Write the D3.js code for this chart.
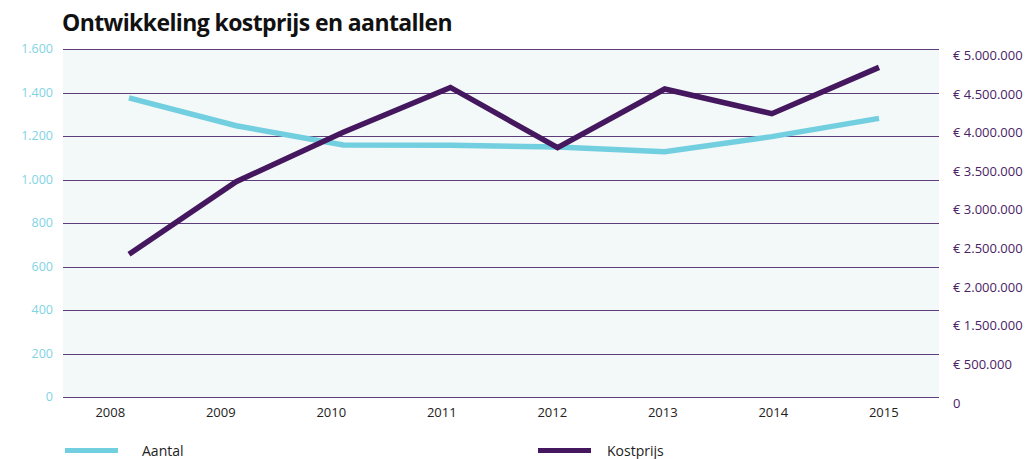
<!DOCTYPE html>
<html>
<head>
<meta charset="utf-8">
<script src="https://cdn.jsdelivr.net/npm/d3@7"></script>
<style>
  body { margin: 0; background: #fff; }
  text { font-family: "Open Sans", "DejaVu Sans", sans-serif; }
</style>
</head>
<body>
<svg id="chart" width="1033" height="459"></svg>
<script>
// data
const years = ['2008', '2009', '2010', '2011', '2012', '2013', '2014', '2015'];
const aantal = [1375, 1247, 1159, 1158, 1149, 1128, 1197, 1281];
const kostprijs = [2420000, 3360000, 4000000, 4580000, 3800000, 4560000, 4240000, 4840000];

const leftTicks = [0, 200, 400, 600, 800, 1000, 1200, 1400, 1600];
// right axis labels as printed (1.000.000 is missing in the original)
const rightTicks = [0, 500000, 1500000, 2000000, 2500000, 3000000, 3500000, 4000000, 4500000, 5000000];
const rightLabels = ['0', '€ 500.000', '€ 1.500.000', '€ 2.000.000', '€ 2.500.000',
    '€ 3.000.000', '€ 3.500.000', '€ 4.000.000', '€ 4.500.000', '€ 5.000.000'];

const aantalColor = '#72cfdf';
const kostColor = '#45175e';
const gridColor = '#5e3d7a';

const svg = d3.select('#chart');

const plot = { left: 63, right: 939, top: 49, bottom: 397 };

svg.append('text')
    .text('Ontwikkeling kostprijs en aantallen')
    .attr('x', 62)
    .attr('y', 31)
    .attr('font-size', 23)
    .attr('font-weight', 'bold')
    .attr('fill', '#111')
    .style('letter-spacing', '-0.6px');

svg.append('rect')
    .attr('x', plot.left)
    .attr('y', plot.top)
    .attr('width', plot.right - plot.left)
    .attr('height', plot.bottom - plot.top)
    .attr('fill', '#f3f8f8');

const yLeft = d3.scaleLinear()
    .domain([0, 1600])
    .range([plot.bottom, plot.top]);

// right labels are spaced evenly from 402 down to 55, so the scale follows the labels
const rightPos = d3.scalePoint()
    .domain(d3.range(rightTicks.length))
    .range([402.5, 55]);
const yRight = d3.scaleLinear()
    .domain(rightTicks)
    .range(rightTicks.map((d, i) => rightPos(i)));

const xLabels = d3.scaleBand()
    .domain(years)
    .range([55, 939]);
const xLine = d3.scalePoint()
    .domain(years)
    .range([129, 879]);

// gridlines
svg.append('g')
    .selectAll('line')
    .data(leftTicks)
    .join('line')
    .attr('x1', plot.left)
    .attr('x2', plot.right)
    .attr('y1', d => Math.round(yLeft(d)) + 0.5)
    .attr('y2', d => Math.round(yLeft(d)) + 0.5)
    .attr('stroke', gridColor)
    .attr('stroke-width', 1.2);

// left axis
svg.append('g')
    .selectAll('text')
    .data(leftTicks)
    .join('text')
    .text(d => d3.format(',')(d).replace(/,/g, '.'))
    .attr('x', 53)
    .attr('y', d => yLeft(d) + 4)
    .attr('text-anchor', 'end')
    .attr('font-size', 12.5)
    .attr('fill', '#7fd4e4');

// right axis
svg.append('g')
    .selectAll('text')
    .data(rightTicks)
    .join('text')
    .text((d, i) => rightLabels[i])
    .attr('x', 953)
    .attr('y', d => yRight(d) + 5)
    .attr('font-size', 13)
    .attr('fill', '#4a2265');

// x axis labels
svg.append('g')
    .selectAll('text')
    .data(years)
    .join('text')
    .text(d => d)
    .attr('x', d => xLabels(d) + xLabels.bandwidth() / 2)
    .attr('y', 417)
    .attr('text-anchor', 'middle')
    .attr('font-size', 13)
    .attr('fill', '#222');

const aantalLine = d3.line()
    .x((d, i) => xLine(years[i]))
    .y(d => yLeft(d));

const kostLine = d3.line()
    .x((d, i) => xLine(years[i]))
    .y(d => yRight(d));

svg.append('path')
    .datum(aantal)
    .attr('d', aantalLine)
    .attr('fill', 'none')
    .attr('stroke', aantalColor)
    .attr('stroke-width', 5.5);

svg.append('path')
    .datum(kostprijs)
    .attr('d', kostLine)
    .attr('fill', 'none')
    .attr('stroke', kostColor)
    .attr('stroke-width', 5.5);

// legend
const legend = [
    { name: 'Aantal', color: aantalColor, x: 65, tx: 142 },
    { name: 'Kostprijs', color: kostColor, x: 538, tx: 607 }
];

const lg = svg.append('g')
    .selectAll('g')
    .data(legend)
    .join('g');

lg.append('rect')
    .attr('x', d => d.x)
    .attr('y', 448)
    .attr('width', 53)
    .attr('height', 5)
    .attr('fill', d => d.color);

lg.append('text')
    .text(d => d.name)
    .attr('x', d => d.tx)
    .attr('y', 456)
    .attr('font-size', 14)
    .attr('fill', '#222');
</script>
</body>
</html>
